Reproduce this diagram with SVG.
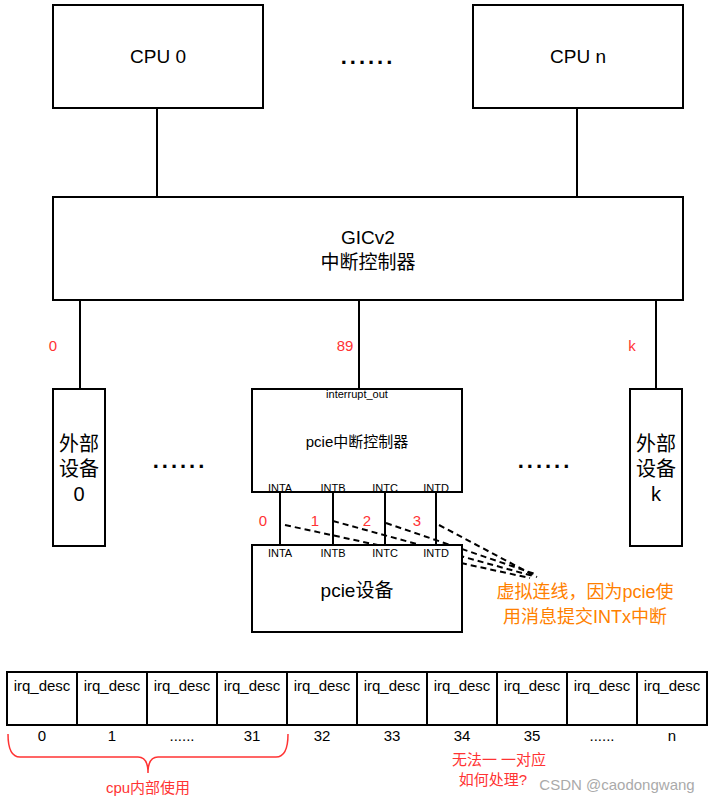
<svg xmlns="http://www.w3.org/2000/svg" width="715" height="803" viewBox="0 0 715 803">
<style>
.b{fill:#fff;stroke:#000;stroke-width:2}
.l{stroke:#000;stroke-width:2;fill:none}
.d{stroke:#000;stroke-width:2;stroke-dasharray:6 4;fill:none}
text{font-family:"Liberation Sans","Noto Sans CJK SC",sans-serif;text-anchor:middle}
.t{font-size:19px}
.e{font-size:20px}
.s{font-size:11px}
.r{fill:#ff3333;font-size:15px}
.o{fill:#ff8000;font-size:18px}
.dots{font-size:22px;font-weight:bold;letter-spacing:3px}
</style>
<rect width="715" height="803" fill="#fff"/>
<g id="connectors">
<path class="l" d="M157 108V197M577 108V197M80 300V389M359 300V389M656 300V389M280 492V545M333 492V545M385 492V545M436 492V545"/>
<path class="d" d="M285 525L530 578M333 521L533 576M386 523L535 574M439 525L537 577"/>
</g>
<g id="cpu0"><rect class="b" x="53" y="5" width="210" height="103"/><text class="t" x="158" y="63">CPU 0</text></g>
<g id="dots1"><text class="dots" x="368" y="64">......</text></g>
<g id="cpun"><rect class="b" x="473" y="5" width="210" height="103"/><text class="t" x="578" y="63">CPU n</text></g>
<g id="gic"><rect class="b" x="53" y="197" width="630" height="103"/><text class="t" x="368" y="244">GICv2</text><text class="t" x="368" y="269">中断控制器</text></g>
<g id="labels"><text class="r" x="53" y="351">0</text><text class="r" x="345" y="351">89</text><text class="r" x="632" y="351">k</text>
<text class="r" x="263" y="526">0</text><text class="r" x="315" y="526">1</text><text class="r" x="367" y="526">2</text><text class="r" x="417" y="526">3</text></g>
<g id="ext0"><rect class="b" x="53" y="389" width="52" height="157"/><text class="e" x="79" y="451">外部</text><text class="e" x="79" y="476">设备</text><text class="e" x="79" y="501">0</text></g>
<g id="pciectrl"><rect class="b" x="252" y="389" width="210" height="103"/><text class="s" x="357" y="398">interrupt_out</text><text font-size="15" x="357" y="447">pcie中断控制器</text>
<text class="s" x="280" y="492">INTA</text><text class="s" x="333" y="492">INTB</text><text class="s" x="385" y="492">INTC</text><text class="s" x="436" y="492">INTD</text></g>
<g id="dots2"><text class="dots" x="180" y="468">......</text><text class="dots" x="545" y="468">......</text></g>
<g id="extk"><rect class="b" x="630" y="389" width="52" height="157"/><text class="e" x="656" y="451">外部</text><text class="e" x="656" y="476">设备</text><text class="e" x="656" y="501">k</text></g>
<g id="pciedev"><rect class="b" x="252" y="545" width="210" height="87"/><text class="s" x="280" y="557">INTA</text><text class="s" x="333" y="557">INTB</text><text class="s" x="385" y="557">INTC</text><text class="s" x="436" y="557">INTD</text><text class="t" x="357" y="597">pcie设备</text></g>
<g id="note"><text class="o" x="585" y="598">虚拟连线，因为pcie使</text><text class="o" x="585" y="623">用消息提交INTx中断</text></g>
<g id="table">
<rect class="b" x="7" y="672" width="700" height="53"/>
<path class="l" d="M77 672V725M147 672V725M217 672V725M287 672V725M357 672V725M427 672V725M497 672V725M567 672V725M637 672V725"/>
<g font-size="15"><text x="42" y="691">irq_desc</text><text x="112" y="691">irq_desc</text><text x="182" y="691">irq_desc</text><text x="252" y="691">irq_desc</text><text x="322" y="691">irq_desc</text><text x="392" y="691">irq_desc</text><text x="462" y="691">irq_desc</text><text x="532" y="691">irq_desc</text><text x="602" y="691">irq_desc</text><text x="672" y="691">irq_desc</text>
<text x="42" y="741">0</text><text x="112" y="741">1</text><text x="182" y="741">......</text><text x="252" y="741">31</text><text x="322" y="741">32</text><text x="392" y="741">33</text><text x="462" y="741">34</text><text x="532" y="741">35</text><text x="602" y="741">......</text><text x="672" y="741">n</text></g>
</g>
<g id="brace"><path d="M8 734Q8 757 20 757H138Q148 757 148 773Q148 757 158 757H276Q288 757 288 734" fill="none" stroke="#ff3333" stroke-width="1.5"/><text class="r" x="148" y="793">cpu内部使用</text></g>
<g id="q"><text class="r" x="499" y="765">无法一 一对应</text><text class="r" x="493" y="785">如何处理?</text></g>
<text x="617" y="790" font-size="15" fill="#aaa">CSDN @caodongwang</text>
</svg>
